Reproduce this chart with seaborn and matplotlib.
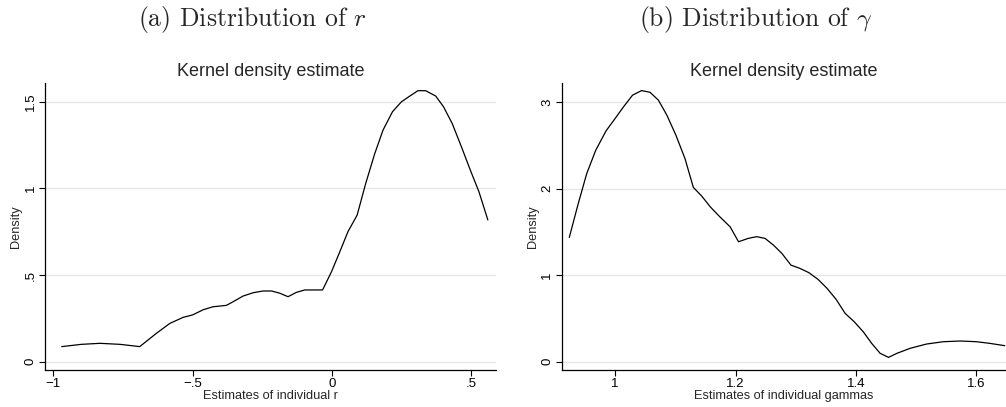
import numpy as np
import pandas as pd
import matplotlib
matplotlib.use("Agg")
import matplotlib.pyplot as plt
import seaborn as sns

# Panel (a): kernel density of individual r
r_x = [-0.97, -0.90, -0.833, -0.76, -0.69, -0.63, -0.582, -0.534, -0.50, -0.462,
       -0.427, -0.379, -0.355, -0.319, -0.283, -0.247, -0.217, -0.187, -0.158,
       -0.128, -0.098, -0.034, -0.002, 0.028, 0.057, 0.09, 0.121, 0.153, 0.183,
       0.217, 0.249, 0.279, 0.308, 0.336, 0.372, 0.40, 0.431, 0.464, 0.496,
       0.527, 0.559]
r_y = [0.087, 0.100, 0.106, 0.100, 0.087, 0.164, 0.221, 0.256, 0.27, 0.30,
       0.317, 0.325, 0.346, 0.379, 0.398, 0.408, 0.408, 0.395, 0.375,
       0.40, 0.414, 0.414, 0.519, 0.635, 0.75, 0.846, 1.03, 1.20, 1.337,
       1.443, 1.50, 1.533, 1.564, 1.564, 1.533, 1.471, 1.375, 1.241, 1.106,
       0.981, 0.818]

# Panel (b): kernel density of individual gammas
g_x = [0.924, 0.939, 0.953, 0.968, 0.985, 1.0, 1.014, 1.029, 1.044, 1.058,
       1.072, 1.086, 1.101, 1.116, 1.130, 1.144, 1.158, 1.174, 1.191, 1.205,
       1.221, 1.235, 1.249, 1.263, 1.277, 1.292, 1.307, 1.322, 1.337, 1.352,
       1.367, 1.382, 1.397, 1.412, 1.426, 1.44, 1.454, 1.468, 1.49, 1.517,
       1.545, 1.573, 1.60, 1.622, 1.647]
g_y = [1.436, 1.83, 2.175, 2.445, 2.667, 2.81, 2.945, 3.08, 3.133, 3.114,
       3.022, 2.849, 2.618, 2.349, 2.014, 1.913, 1.79, 1.674, 1.559, 1.386,
       1.425, 1.445, 1.425, 1.347, 1.251, 1.116, 1.078, 1.028, 0.951, 0.847,
       0.72, 0.558, 0.462, 0.346, 0.212, 0.097, 0.05, 0.097, 0.155, 0.204,
       0.231, 0.239, 0.231, 0.212, 0.185]

r_xticks = [-1, -0.5, 0, 0.5]
r_xlabels = ["\u22121", "\u2212.5", "0", ".5"]
r_yticks = [0, 0.5, 1, 1.5]
r_ylabels = ["0", ".5", "1", "1.5"]

g_xticks = [1, 1.2, 1.4, 1.6]
g_xlabels = ["1", "1.2", "1.4", "1.6"]
g_yticks = [0, 1, 2, 3]
g_ylabels = ["0", "1", "2", "3"]

sns.set_style("white")
plt.rcParams["font.family"] = ["Liberation Sans", "DejaVu Sans"]
plt.rcParams["mathtext.fontset"] = "cm"

fig = plt.figure(figsize=(10.06, 4.07), dpi=100)
ax1 = fig.add_axes([0.0447, 0.0909, 0.448, 0.705])
ax2 = fig.add_axes([0.5584, 0.0909, 0.4416, 0.705])


def style_panel(ax, xlabel, xlim, ylim, xt, xl, yt, yl):
    ax.set_xlim(*xlim)
    ax.set_ylim(*ylim)
    ax.set_xticks(xt)
    ax.set_xticklabels(xl)
    ax.set_yticks(yt)
    ax.set_yticklabels(yl, rotation=90, va="center")
    for y in yt:
        ax.axhline(y, color="#e6e6e6", lw=1.0, zorder=0)
    ax.tick_params(axis="both", direction="out", length=4, width=0.8,
                   labelsize=9.5, colors="black", pad=2,
                   bottom=True, left=True)
    for side in ["top", "right"]:
        ax.spines[side].set_visible(False)
    for side in ["left", "bottom"]:
        ax.spines[side].set_color("black")
        ax.spines[side].set_linewidth(0.9)
    ax.set_xlabel(xlabel, fontsize=9.2, labelpad=0)
    ax.set_ylabel("Density", fontsize=9.2, labelpad=2)
    ax.set_title("Kernel density estimate", fontsize=13, pad=5)


df_r = pd.DataFrame({"x": r_x, "y": r_y})
df_g = pd.DataFrame({"x": g_x, "y": g_y})
sns.lineplot(data=df_r, x="x", y="y", ax=ax1, color="black", lw=0.9, sort=False)
sns.lineplot(data=df_g, x="x", y="y", ax=ax2, color="black", lw=0.9, sort=False)

style_panel(ax1, "Estimates of individual r", (-1.03, 0.587), (-0.048, 1.608),
            r_xticks, r_xlabels, r_yticks, r_ylabels)
style_panel(ax2, "Estimates of individual gammas", (0.9115, 1.649), (-0.096, 3.22),
            g_xticks, g_xlabels, g_yticks, g_ylabels)

fig.text(0.251, 0.951, r"(a) Distribution of $r$", ha="center", va="center",
         fontsize=18.5, family="cmr10")
fig.text(0.751, 0.951, r"(b) Distribution of $\gamma$", ha="center", va="center",
         fontsize=18.5, family="cmr10")

fig.savefig("out.png", dpi=100)
